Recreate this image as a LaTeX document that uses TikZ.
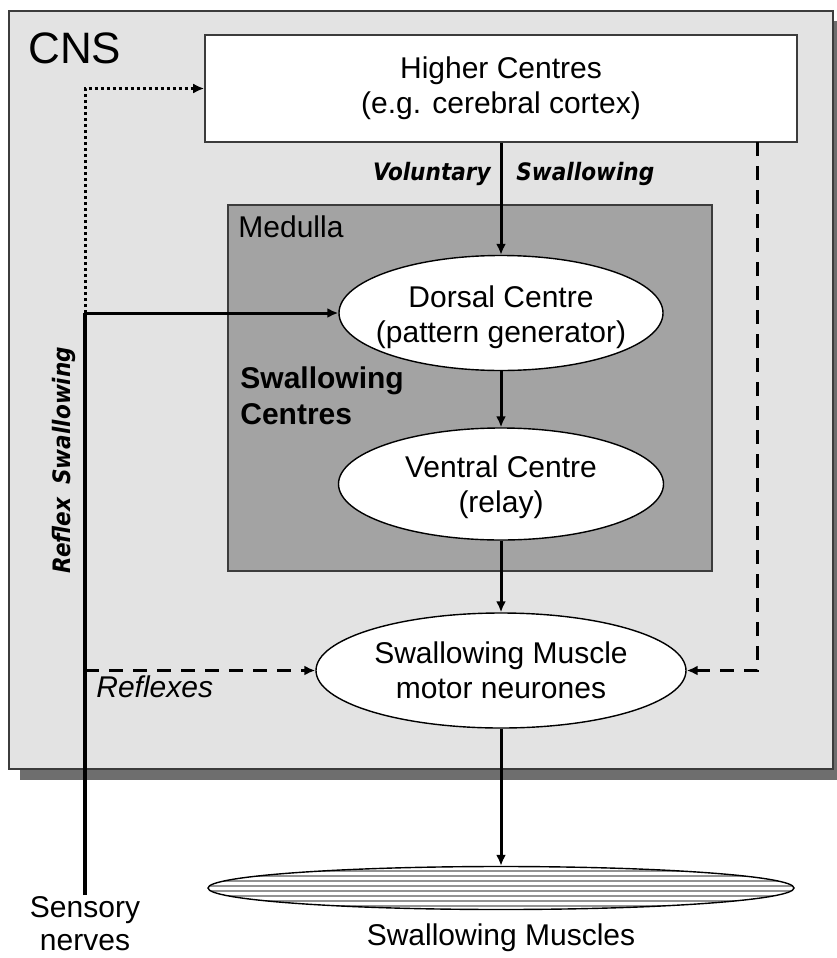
\documentclass[tikz,border=0pt]{standalone}
\usepackage{fontspec}
\setmainfont{Liberation Sans}
\newfontfamily\condfont{DejaVu Sans Condensed}
\usepackage{tikz}
\usetikzlibrary{shapes.geometric,arrows.meta}
\definecolor{cnsgray}{HTML}{E3E3E3}
\definecolor{medgray}{HTML}{A3A3A3}
\definecolor{shadowgray}{HTML}{6E6E6E}
\definecolor{edgegray}{HTML}{3C3C3C}
\tikzstyle{txt}=[inner sep=0pt, align=center, font=\fontsize{15}{17.5}\selectfont]
\tikzstyle{centre}=[ellipse, draw=black, line width=0.7pt, fill=white, inner sep=0pt]
\tikzstyle{arr}=[line width=1.5pt, -{Latex[length=5.5pt,width=5pt]}]
\tikzstyle{dashedarr}=[arr, dash pattern=on 7pt off 5pt]
\tikzstyle{dottedarr}=[arr, dash pattern=on 1.5pt off 1.5pt]
\tikzstyle{slanted}=[inner sep=0pt, font=\condfont\bfseries\itshape\fontsize{12}{14}\selectfont]
\tikzstyle{stripe}=[draw=gray!85, line width=1pt]

\begin{document}
\begin{tikzpicture}[x=0.5pt,y=-0.5pt]
            \useasboundingbox (0,0) rectangle (836,958);
            % Cajas
            \fill[shadowgray] (20,21) rectangle (845,780);
            \draw[edgegray, line width=0.8pt, fill=cnsgray] (9,11) rectangle (833,769);
            \draw[edgegray, line width=0.7pt, fill=medgray] (228,205) rectangle (712,571);
            \node[txt, anchor=base west, font=\fontsize{22}{26}\selectfont] (cns) at (28,63) {CNS};
            \node[txt, anchor=base west] (medulla) at (238,237) {Medulla};
            \node[txt, draw=edgegray, line width=0.8pt, fill=white, minimum width=296pt, minimum height=53.5pt] (higher) at (501,88.5) {Higher Centres\\(e.g. cerebral cortex)};
            % Centros
            \node[centre, minimum width=162pt, minimum height=57.5pt] (dorsal) at (501,313) {};
            \node[txt, anchor=north] (dorsaltxt) at (501,285.5) {Dorsal Centre\\(pattern generator)};
            \node[centre, minimum width=162.5pt, minimum height=56pt] (ventral) at (501,484) {};
            \node[txt, anchor=north] (ventraltxt) at (501,455.5) {Ventral Centre\\(relay)};
            \node[centre, minimum width=185pt, minimum height=57.5pt] (motor) at (501,670.5) {};
            \node[txt, anchor=north] (motortxt) at (501,641.5) {Swallowing Muscle\\motor neurones};
            \node[centre, minimum width=293pt, minimum height=21.5pt,
                  path picture={\foreach \k in {-8.75,-6.25,...,8.75}
                    \draw[stripe] ([yshift=\k*1pt]path picture bounding box.west) -- ([yshift=\k*1pt]path picture bounding box.east);}] (muscles) at (501,888) {};
            % Textos
            \node[txt, anchor=north west, align=left, font=\bfseries\fontsize{15}{18}\selectfont] (swcentres) at (240,366.5) {Swallowing\\Centres};
            \node[slanted, anchor=base east] (voluntary) at (491,180) {Voluntary};
            \node[slanted, anchor=base west] (volswallow) at (516,180) {Swallowing};
            \node[slanted, anchor=base, rotate=90] (reflexsw) at (70,460) {Reflex\hspace{6.5pt}Swallowing};
            \node[txt, anchor=base west, font=\itshape\fontsize{15}{17.5}\selectfont] (reflexes) at (96,697) {Reflexes};
            \node[txt, anchor=north, font=\fontsize{15}{16.5}\selectfont] (sensory) at (85,896) {Sensory\\nerves};
            \node[txt, anchor=base] (musclestxt) at (501,945) {Swallowing Muscles};
            % Flechas
            \coordinate (sensbot) at (85,895);
            \coordinate (senstop) at (85,88.5);
            \coordinate (sensdors) at (85,313);
            \coordinate (sensrefl) at (85,670.5);
            \coordinate (hcright) at (757,142);
            \draw[line width=1.6pt] (sensbot) -- (sensdors);
            \draw[dottedarr] (sensdors) -- (senstop) -- (higher.west);
            \draw[arr] (sensdors) -- (dorsal.west);
            \draw[dashedarr] (sensrefl) -- (motor.west);
            \draw[dashedarr] (hcright) |- (motor.east);
            \draw[arr] (higher.south) -- (dorsal.north);
            \draw[arr] (dorsal.south) -- (ventral.north);
            \draw[arr] (ventral.south) -- (motor.north);
            \draw[arr] (motor.south) -- (muscles.north);
        \end{tikzpicture}
\end{document}
